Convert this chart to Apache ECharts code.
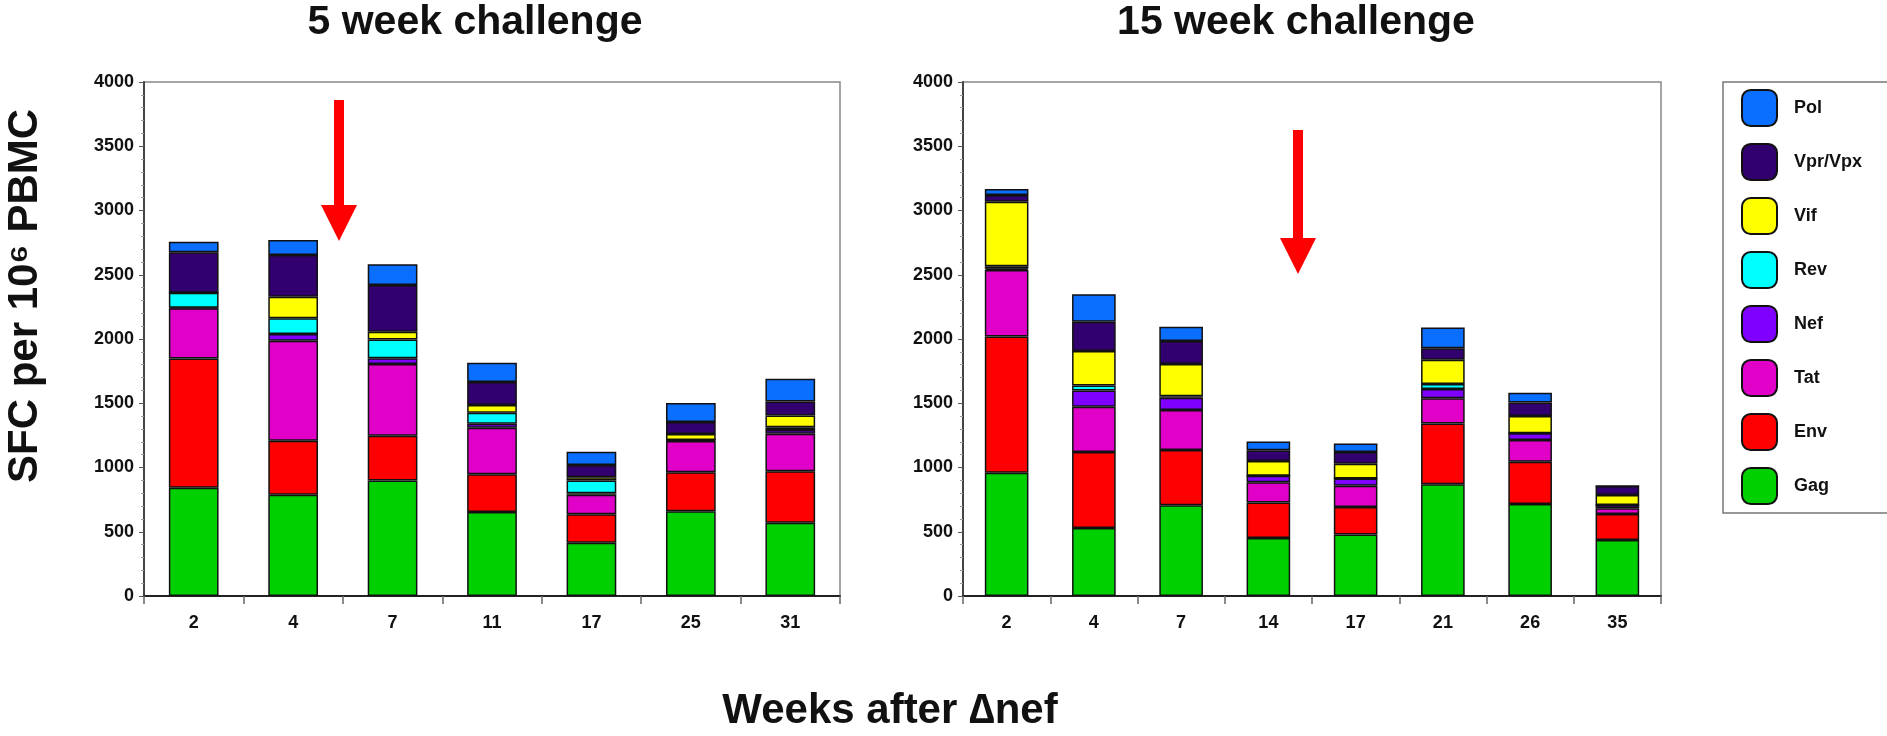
<!DOCTYPE html>
<html>
<head>
<meta charset="utf-8">
<script src="https://cdn.jsdelivr.net/npm/echarts@6/dist/echarts.min.js"></script>
<style>
html,body{margin:0;padding:0;background:#fff;}
#chart{width:1887px;height:736px;}
</style>
</head>
<body>
<div id="chart"></div>
<script>
// ---- data ----
const seriesNames = ['Gag','Env','Tat','Nef','Rev','Vif','Vpr/Vpx','Pol'];
const legendOrder = ['Pol','Vpr/Vpx','Vif','Rev','Nef','Tat','Env','Gag'];

const weeksA = ['2','4','7','11','17','25','31'];
const gagA = [842, 787, 898, 653, 414, 659, 570];
const envA = [1006, 422, 350, 295, 222, 305, 400];
const tatA = [391, 778, 557, 362, 151, 242, 293];
const nefA = [5, 52, 45, 31, 12, 8, 28];
const revA = [116, 122, 147, 86, 99, 0, 22];
const vifA = [0, 168, 60, 59, 27, 46, 92];
const vprA = [315, 325, 363, 179, 95, 94, 108];
const polA = [82, 116, 161, 151, 103, 148, 177];

const weeksB = ['2','4','7','14','17','21','26','35'];
const gagB = [960, 530, 707, 452, 478, 870, 716, 436];
const envB = [1060, 590, 430, 275, 214, 472, 329, 202];
const tatB = [517, 352, 311, 158, 166, 197, 169, 44];
const nefB = [10, 128, 95, 50, 56, 72, 52, 26];
const revB = [20, 39, 12, 0, 0, 39, 0, 0];
const vifB = [502, 268, 250, 115, 116, 189, 135, 78];
const vprB = [52, 228, 179, 85, 90, 89, 104, 70];
const polB = [46, 213, 112, 67, 66, 161, 77, 0];

const yTicks = {min: 0, max: 4000, interval: 500};

const titleA = '5 week challenge';
const titleB = '15 week challenge';
const yTitle = 'SFC per 10\u2076 PBMC';
const xTitle = 'Weeks after \u2206nef';

// ---- styles ----
const colors = {
  'Gag':'#00d000','Env':'#ff0000','Tat':'#e000c8','Nef':'#7f00ff',
  'Rev':'#00ffff','Vif':'#ffff00','Vpr/Vpx':'#32006e','Pol':'#0a6eff'
};
const FONT = '"Liberation Sans", Arial, Helvetica, sans-serif';

const dataA = [gagA, envA, tatA, nefA, revA, vifA, vprA, polA];
const dataB = [gagB, envB, tatB, nefB, revB, vifB, vprB, polB];

function makeSeries(dataSets, idx, stack) {
  return seriesNames.map((name, i) => ({
    name: name,
    type: 'bar',
    stack: stack,
    xAxisIndex: idx,
    yAxisIndex: idx,
    barWidth: '50%',
    data: dataSets[i],
    itemStyle: {color: colors[name], borderColor: '#111', borderWidth: 1.5},
    emphasis: {disabled: true}
  }));
}

function xAxisDef(idx, cats) {
  return {
    type: 'category', gridIndex: idx, data: cats,
    axisLine: {show: true, lineStyle: {color: '#222', width: 2}},
    axisTick: {show: true, length: 8, lineStyle: {color: '#666', width: 1.5}},
    axisLabel: {fontFamily: FONT, fontWeight: 'bold', fontSize: 18, color: '#111', margin: 18},
    splitLine: {show: false}
  };
}
function yAxisDef(idx) {
  return {
    type: 'value', gridIndex: idx, min: yTicks.min, max: yTicks.max, interval: yTicks.interval,
    axisLine: {show: true, lineStyle: {color: '#444', width: 2}},
    axisTick: {show: true, length: 5, lineStyle: {color: '#555'}},
    minorTick: {show: true, splitNumber: 5, length: 3, lineStyle: {color: '#999'}},
    axisLabel: {fontFamily: FONT, fontWeight: 'bold', fontSize: 18, color: '#111', margin: 10,
      formatter: function (v) { return String(v); }},
    splitLine: {show: false}
  };
}

const chart = echarts.init(document.getElementById('chart'), null, {renderer: 'canvas'});
const option = {
  backgroundColor: '#fff',
  animation: false,
  grid: [
    {left: 144, top: 82, width: 696, height: 514, show: true, borderColor: '#888', borderWidth: 1.5, backgroundColor: 'transparent'},
    {left: 963, top: 82, width: 698, height: 514, show: true, borderColor: '#888', borderWidth: 1.5, backgroundColor: 'transparent'}
  ],
  xAxis: [xAxisDef(0, weeksA), xAxisDef(1, weeksB)],
  yAxis: [yAxisDef(0), yAxisDef(1)],
  legend: {
    orient: 'vertical', left: 1723, top: 82,
    data: legendOrder,
    icon: 'roundRect',
    itemWidth: 35, itemHeight: 36, itemGap: 16,
    padding: [7, 40, 8, 18],
    borderColor: '#777', borderWidth: 1.5,
    selectedMode: false,
    textStyle: {fontFamily: FONT, fontWeight: 'bold', fontSize: 18, color: '#111', padding: [0, 0, 0, 12]}
  },
  graphic: [
    {type: 'text', x: 475, y: 23, style: {text: titleA, font: 'bold 41px ' + FONT, fill: '#111', textAlign: 'center', textVerticalAlign: 'middle'}},
    {type: 'text', x: 1296, y: 23, style: {text: titleB, font: 'bold 41px ' + FONT, fill: '#111', textAlign: 'center', textVerticalAlign: 'middle'}},
    {type: 'text', x: 25, y: 296, rotation: Math.PI / 2, style: {text: yTitle, font: 'bold 42px ' + FONT, fill: '#111', textAlign: 'center', textVerticalAlign: 'middle'}},
    {type: 'text', x: 890, y: 711, style: {text: xTitle, font: 'bold 42px ' + FONT, fill: '#111', textAlign: 'center', textVerticalAlign: 'middle'}},
    // annotation arrows
    {type: 'rect', shape: {x: 334, y: 100, width: 10, height: 108}, style: {fill: '#ff0000'}},
    {type: 'polygon', shape: {points: [[321, 205], [357, 205], [339, 241]]}, style: {fill: '#ff0000'}},
    {type: 'rect', shape: {x: 1293, y: 130, width: 10, height: 111}, style: {fill: '#ff0000'}},
    {type: 'polygon', shape: {points: [[1280, 238], [1316, 238], [1298, 274]]}, style: {fill: '#ff0000'}}
  ],
  series: makeSeries(dataA, 0, 'a').concat(makeSeries(dataB, 1, 'b'))
};
chart.setOption(option);
</script>
</body>
</html>
